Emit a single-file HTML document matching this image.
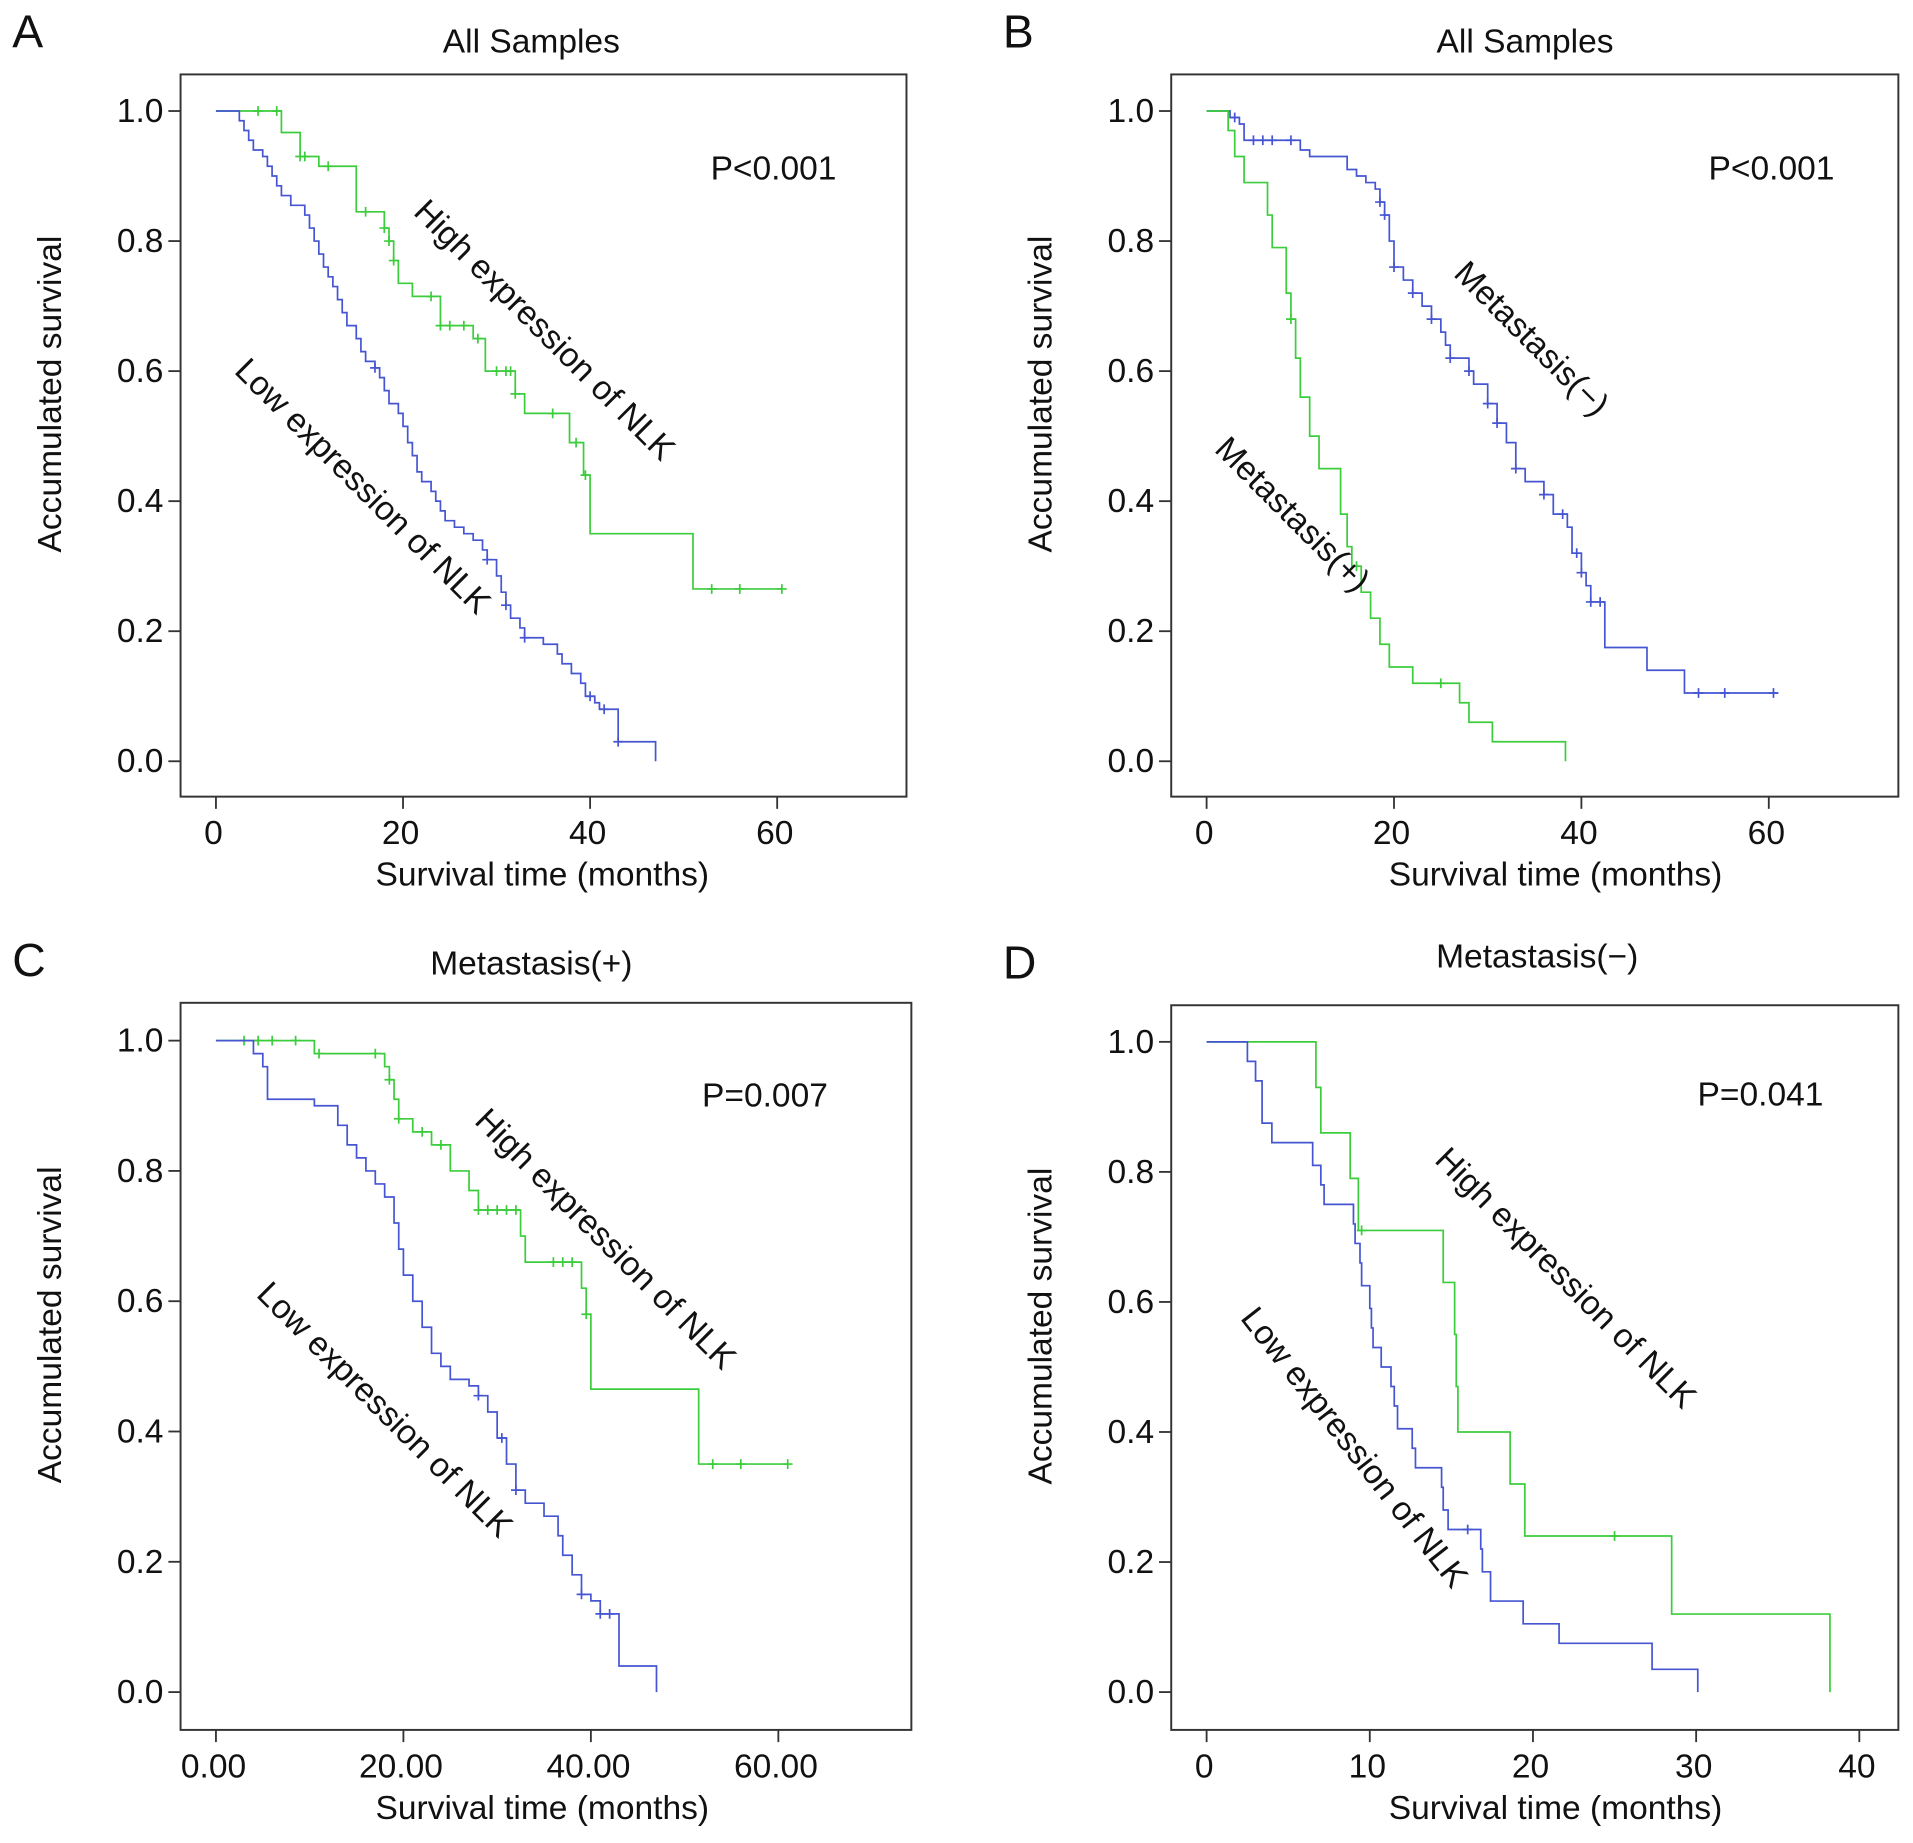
<!DOCTYPE html>
<html><head><meta charset="utf-8"><style>
html,body{margin:0;padding:0;background:#fff;}
svg{display:block;font-family:"Liberation Sans",Arial,sans-serif;}
</style></head><body>
<svg id="fig" width="1913" height="1843" viewBox="0 0 1568 1510.7" preserveAspectRatio="none" xmlns="http://www.w3.org/2000/svg"></svg>
<script>
// ---- Panel A data ----
const aHighT=[0,7,9,11,15,18,18.5,19,19.5,21,24,27.5,28.8,32,33,37.8,39.3,40,51,60.5];
const aHighS=[1,0.967,0.93,0.915,0.845,0.82,0.8,0.77,0.735,0.715,0.67,0.65,0.6,0.565,0.535,0.49,0.44,0.35,0.265,0.265];
const aHighC=[4.5,6.5,9,9.5,12,16,18,18.5,19,23,24,25,26.5,28,30,31,31.5,32,36,38.5,39.5,53,56,60.5];
const aLowT=[0,2.5,3,3.5,4,5,5.5,6,6.5,7,8,9.5,10,10.5,11,11.5,12,12.5,13,13.5,14,15,15.5,16,17,17.5,18,18.5,19.5,20,20.5,21,21.5,22,23,23.5,24,24.5,25.5,26.5,27.5,28.5,29,30,30.5,31,31.5,32.5,33,35,36.5,37,38,39,39.5,40.5,41,43,47];
const aLowS=[1,0.985,0.97,0.955,0.94,0.93,0.915,0.9,0.885,0.87,0.855,0.84,0.82,0.8,0.78,0.76,0.745,0.73,0.71,0.69,0.67,0.65,0.63,0.615,0.605,0.59,0.57,0.55,0.535,0.515,0.49,0.47,0.445,0.43,0.415,0.4,0.385,0.37,0.36,0.35,0.34,0.325,0.31,0.285,0.26,0.24,0.22,0.205,0.19,0.18,0.165,0.15,0.135,0.12,0.1,0.09,0.08,0.03,0];
const aLowC=[17,29,31,33,40,41.5,43];
// ---- Panel B data ----
const bNegT=[0,2.5,3.5,4,10,11,15,16,17,18,18.5,19,19.5,20,21,22,23,24,25,25.5,26,28,28.5,30,31,32,33,34,36,37,38.5,39,40,40.5,41,42.5,47,51,61];
const bNegS=[1,0.99,0.98,0.955,0.94,0.93,0.91,0.9,0.89,0.88,0.86,0.84,0.8,0.76,0.74,0.72,0.7,0.68,0.66,0.64,0.62,0.6,0.58,0.55,0.52,0.49,0.45,0.43,0.41,0.38,0.36,0.32,0.29,0.27,0.245,0.175,0.14,0.105,0.105];
const bNegC=[3,5,6,7,9,18.5,19,20,22,24,26,28,30,31,33,36,38,39.5,40,41,42,52.5,55.3,60.5];
const bPosT=[0,2.3,3,4,6.5,7,8.5,9,9.5,10,11,12,14.3,15,15.5,16.5,17.5,18.5,19.5,22,27,28,30.5,38.3];
const bPosS=[1,0.97,0.93,0.89,0.84,0.79,0.72,0.68,0.62,0.56,0.5,0.45,0.38,0.33,0.3,0.26,0.22,0.18,0.145,0.12,0.09,0.06,0.03,0];
const bPosC=[9,16,25];
// ---- Panel C data ----
const cLowT=[0,4,5,5.5,10.5,13,14,15,16,17,18,19,19.5,20,21,22,23,24,25,27,28,29,30,31,32,33,35,36.5,37,38,39,40,41,43,47];
const cLowS=[1,0.98,0.96,0.91,0.9,0.87,0.84,0.82,0.8,0.78,0.76,0.72,0.68,0.64,0.6,0.56,0.52,0.5,0.48,0.47,0.455,0.43,0.39,0.35,0.31,0.29,0.27,0.24,0.21,0.18,0.15,0.14,0.12,0.04,0];
const cLowC=[28,30.5,32,39,41,42];
const cHighT=[0,10.5,18,18.5,19,19.5,21,23,25,27,28,32.5,33,39,39.5,40,51.5,61];
const cHighS=[1,0.98,0.96,0.94,0.91,0.88,0.86,0.84,0.8,0.77,0.74,0.7,0.66,0.62,0.58,0.465,0.35,0.35];
const cHighC=[3,4.5,6,8.5,11,17,18.5,19.5,22,24,28,29,30,31,32,36,37,38,39.5,53,56,61];
// ---- Panel D data ----
const dHighT=[0,6.7,7,8.8,9.3,14.5,15.2,15.3,15.4,18.6,19.5,28.5,38.2];
const dHighS=[1,0.93,0.86,0.79,0.71,0.63,0.55,0.47,0.4,0.32,0.24,0.12,0];
const dHighC=[9.5,25];
const dLowT=[0,2.5,3,3.4,4,6.5,7,7.2,9,9.1,9.4,9.5,10,10.1,10.2,10.7,11.3,11.5,11.7,12.6,12.8,14.4,14.5,14.8,16.8,16.9,17.4,19.4,21.6,27.3,30.1];
const dLowS=[1,0.97,0.94,0.875,0.845,0.81,0.78,0.75,0.72,0.69,0.66,0.625,0.59,0.56,0.53,0.5,0.47,0.44,0.405,0.375,0.345,0.315,0.28,0.25,0.22,0.185,0.14,0.105,0.075,0.035,0];
const dLowC=[16];
const yTicks=[0,0.2,0.4,0.6,0.8,1.0];
const abXTicks=[0,20,40,60];
const cXTicks=[0,20,40,60];
const dXTicks=[0,10,20,30,40];

const NS="http://www.w3.org/2000/svg";
const svg=document.getElementById('fig');
const GREEN="#3ccd3c", BLUE="#4656d2";
const FS=27.5;
function el(tag,attrs,parent){const e=document.createElementNS(NS,tag);for(const k in attrs)e.setAttribute(k,attrs[k]);(parent||svg).appendChild(e);return e;}
function txt(s,attrs,parent){const e=el('text',attrs,parent);e.textContent=s;return e;}

function panel(cfg){
  const g=el('g',{});
  
  
  const X=v=>cfg.x0+(v)*cfg.xs, Y=v=>cfg.yb-(v)*(cfg.yb-cfg.yt);
  const fr=el('rect',{x:cfg.fx,y:cfg.fy,width:cfg.fw,height:cfg.fh,fill:'none',stroke:'#333','stroke-width':1.6},g);
  
  
  const L=txt(cfg.letter,{x:cfg.fx-138,y:cfg.fy-22,'font-size':38,fill:'#111'},g);
  
  
  const T=txt(cfg.title,{x:cfg.fx+cfg.fw/2-12+cfg.tOff,y:cfg.titleY,'font-size':FS,'text-anchor':'middle',fill:'#111'},g);
  
  
  yTicks.forEach(v=>{
    const l=el('line',{x1:cfg.fx-10,x2:cfg.fx,y1:Y(v),y2:Y(v),stroke:'#333','stroke-width':1.5},g);
    
    
    const t=txt(v.toFixed(1),{x:cfg.fx-14,y:Y(v)+9,'font-size':FS,'text-anchor':'end',fill:'#111'},g);
    
    
  });
  cfg.xt.forEach(v=>{
    const l=el('line',{x1:X(v),x2:X(v),y1:cfg.fy+cfg.fh,y2:cfg.fy+cfg.fh+10,stroke:'#333','stroke-width':1.5},g);
    
    
    const t=txt(cfg.fmt(v),{x:X(v)-2,y:cfg.fy+cfg.fh+39,'font-size':FS,'text-anchor':'middle',fill:'#111'},g);
    
    
  });
  const xl=txt('Survival time (months)',{x:cfg.fx+cfg.fw/2-4+cfg.xlOff,y:cfg.fy+cfg.fh+73,'font-size':FS,'text-anchor':'middle',fill:'#111'},g);
  
  
  const yx=cfg.fx-98, yy=cfg.fy+cfg.fh/2-34;
  const yl=txt('Accumulated survival',{x:yx,y:yy,'font-size':FS,'text-anchor':'middle',fill:'#111',transform:`rotate(-90 ${yx} ${yy})`},g);
  
  
  const p=txt(cfg.p,{x:cfg.px,y:cfg.py,'font-size':FS,'text-anchor':'middle',fill:'#111'},g);
  
  
  cfg.series.forEach(s=>{
    let d=`M${X(s.t[0])},${Y(s.s[0])}`;
    for(let i=1;i<s.t.length;i++){d+=` H${X(s.t[i])} V${Y(s.s[i])}`;}
    const path=el('path',{d:d,fill:'none',stroke:s.c,'stroke-width':1.4},g);
    
    
    s.cens.forEach(ct=>{
      let v=s.s[0];
      for(let i=0;i<s.t.length;i++){if(s.t[i]<=ct)v=s.s[i];}
      const m=el('path',{d:`M${X(ct)-4},${Y(v)} h8 M${X(ct)},${Y(v)-4} v8`,stroke:s.c,'stroke-width':1.4},g);
      
      
    });
  });
  cfg.labels.forEach(lb=>{
    const t=txt(lb.s,{x:lb.x,y:lb.y,'font-size':FS,'text-anchor':'middle',fill:'#111',transform:`rotate(${lb.a} ${lb.x} ${lb.y})`},g);
    
    
  });
}
const intFmt=v=>String(v), decFmt=v=>v.toFixed(2);
panel({name:'panel-a',letter:'A',title:'All Samples',titleY:43,tOff:2,xlOff:3,fx:148,fy:61,fw:595,fh:592,x0:177,xs:7.667,yt:91,yb:624,xt:abXTicks,fmt:intFmt,p:'P<0.001',px:634,py:147,
  series:[{name:'high-expression-curve',t:aHighT,s:aHighS,cens:aHighC,c:GREEN},{name:'low-expression-curve',t:aLowT,s:aLowS,cens:aLowC,c:BLUE}],
  labels:[{s:'High expression of NLK',x:440,y:277,a:45,n:'high-expression-label'},{s:'Low expression of NLK',x:291,y:405,a:45,n:'low-expression-label'}]});
panel({name:'panel-b',letter:'B',title:'All Samples',titleY:43,tOff:4,xlOff:21,fx:960,fy:61,fw:596,fh:592,x0:989,xs:7.68,yt:91,yb:624,xt:abXTicks,fmt:intFmt,p:'P<0.001',px:1452,py:147,
  series:[{name:'metastasis-negative-curve',t:bNegT,s:bNegS,cens:bNegC,c:BLUE},{name:'metastasis-positive-curve',t:bPosT,s:bPosS,cens:bPosC,c:GREEN}],
  labels:[{s:'Metastasis(\u2212)',x:1249,y:284,a:45,n:'metastasis-negative-label'},{s:'Metastasis(+)',x:1053,y:428,a:45,n:'metastasis-positive-label'}]});
panel({name:'panel-c',letter:'C',title:'Metastasis(+)',titleY:799,tOff:0,xlOff:1,fx:148,fy:822,fw:599,fh:596,x0:177,xs:7.683,yt:853,yb:1387,xt:cXTicks,fmt:decFmt,p:'P=0.007',px:627,py:907,
  series:[{name:'high-expression-curve',t:cHighT,s:cHighS,cens:cHighC,c:GREEN},{name:'low-expression-curve',t:cLowT,s:cLowS,cens:cLowC,c:BLUE}],
  labels:[{s:'High expression of NLK',x:490,y:1022,a:45,n:'high-expression-label'},{s:'Low expression of NLK',x:309,y:1162,a:45,n:'low-expression-label'}]});
panel({name:'panel-d',letter:'D',title:'Metastasis(\u2212)',titleY:793,tOff:14,xlOff:21,fx:960,fy:824,fw:596,fh:594,x0:989,xs:13.375,yt:854,yb:1387,xt:dXTicks,fmt:intFmt,p:'P=0.041',px:1443,py:906,
  series:[{name:'high-expression-curve',t:dHighT,s:dHighS,cens:dHighC,c:GREEN},{name:'low-expression-curve',t:dLowT,s:dLowS,cens:dLowC,c:BLUE}],
  labels:[{s:'High expression of NLK',x:1277,y:1054,a:45,n:'high-expression-label'},{s:'Low expression of NLK',x:1103,y:1192,a:52,n:'low-expression-label'}]});
</script>
</body></html>
